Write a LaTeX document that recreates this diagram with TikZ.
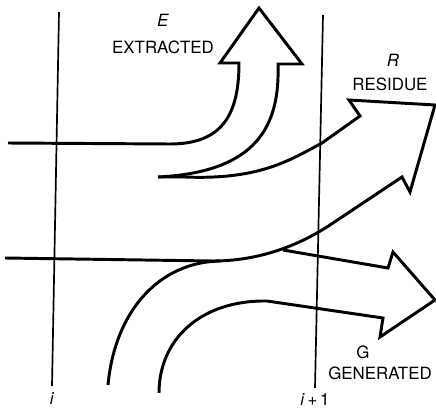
\documentclass[tikz,border=0pt]{standalone}
\usepackage{fontspec}
\setmainfont{TeX Gyre Heros}
\begin{document}
\begin{tikzpicture}[
    x=0.025cm, y=-0.025cm,
    grid/.style={line width=1.2pt},
    flow/.style={line width=2.1pt, line join=miter},
    lbl/.style={font=\fontsize{12}{14}\selectfont, inner sep=0pt}
]
\useasboundingbox (0,0) rectangle (436,408);

% Cell boundaries
\coordinate (iTop) at (59,12);
\coordinate (iBot) at (52,386);
\coordinate (jTop) at (323,15);
\coordinate (jBot) at (315,388);
\draw[grid] (iTop) -- (iBot);
\draw[grid] (jTop) -- (jBot);

% Labels
\node[lbl] (symE) at (163,20)  {\textit{E}};
\node[lbl] (txtE) at (163,47)  {EXTRACTED};
\node[lbl] (symR) at (393,60)  {\textit{R}};
\node[lbl] (txtR) at (390,84)  {RESIDUE};
\node[lbl] (symG) at (363,352) {G};
\node[lbl] (txtG) at (380,373) {GENERATED};
\node[lbl] (cellI) at (52,399) {\textit{i}};
\node[lbl] (cellJ) at (315,400) {\textit{i}\,+\,1};

% Extracted stream
\draw[flow] (8,143) -- (170,144) .. controls (222,144) and (239,115) .. (239,63)
    -- (220,63) -- (259,8) -- (302,64) -- (278,64)
    .. controls (280,125) and (258,172) .. (158,177);

% Residue stream
\draw[flow] (158,177) -- (185,177) .. controls (260,180) and (290,160) .. (322,143)
    -- (360,116) -- (349,100) -- (435,105) -- (410,192) -- (402,177)
    -- (330,225) .. controls (295,248) and (255,261) .. (213,261) -- (5,258);
\draw[flow] (108,385) .. controls (115,310) and (160,262) .. (220,261);

% Generated stream
\draw[flow] (283,250) -- (388,268) -- (393,252) -- (435,300) -- (380,337)
    -- (383,318) -- (267,301) .. controls (200,300) and (159,340) .. (159,393);

\end{tikzpicture}
\end{document}
